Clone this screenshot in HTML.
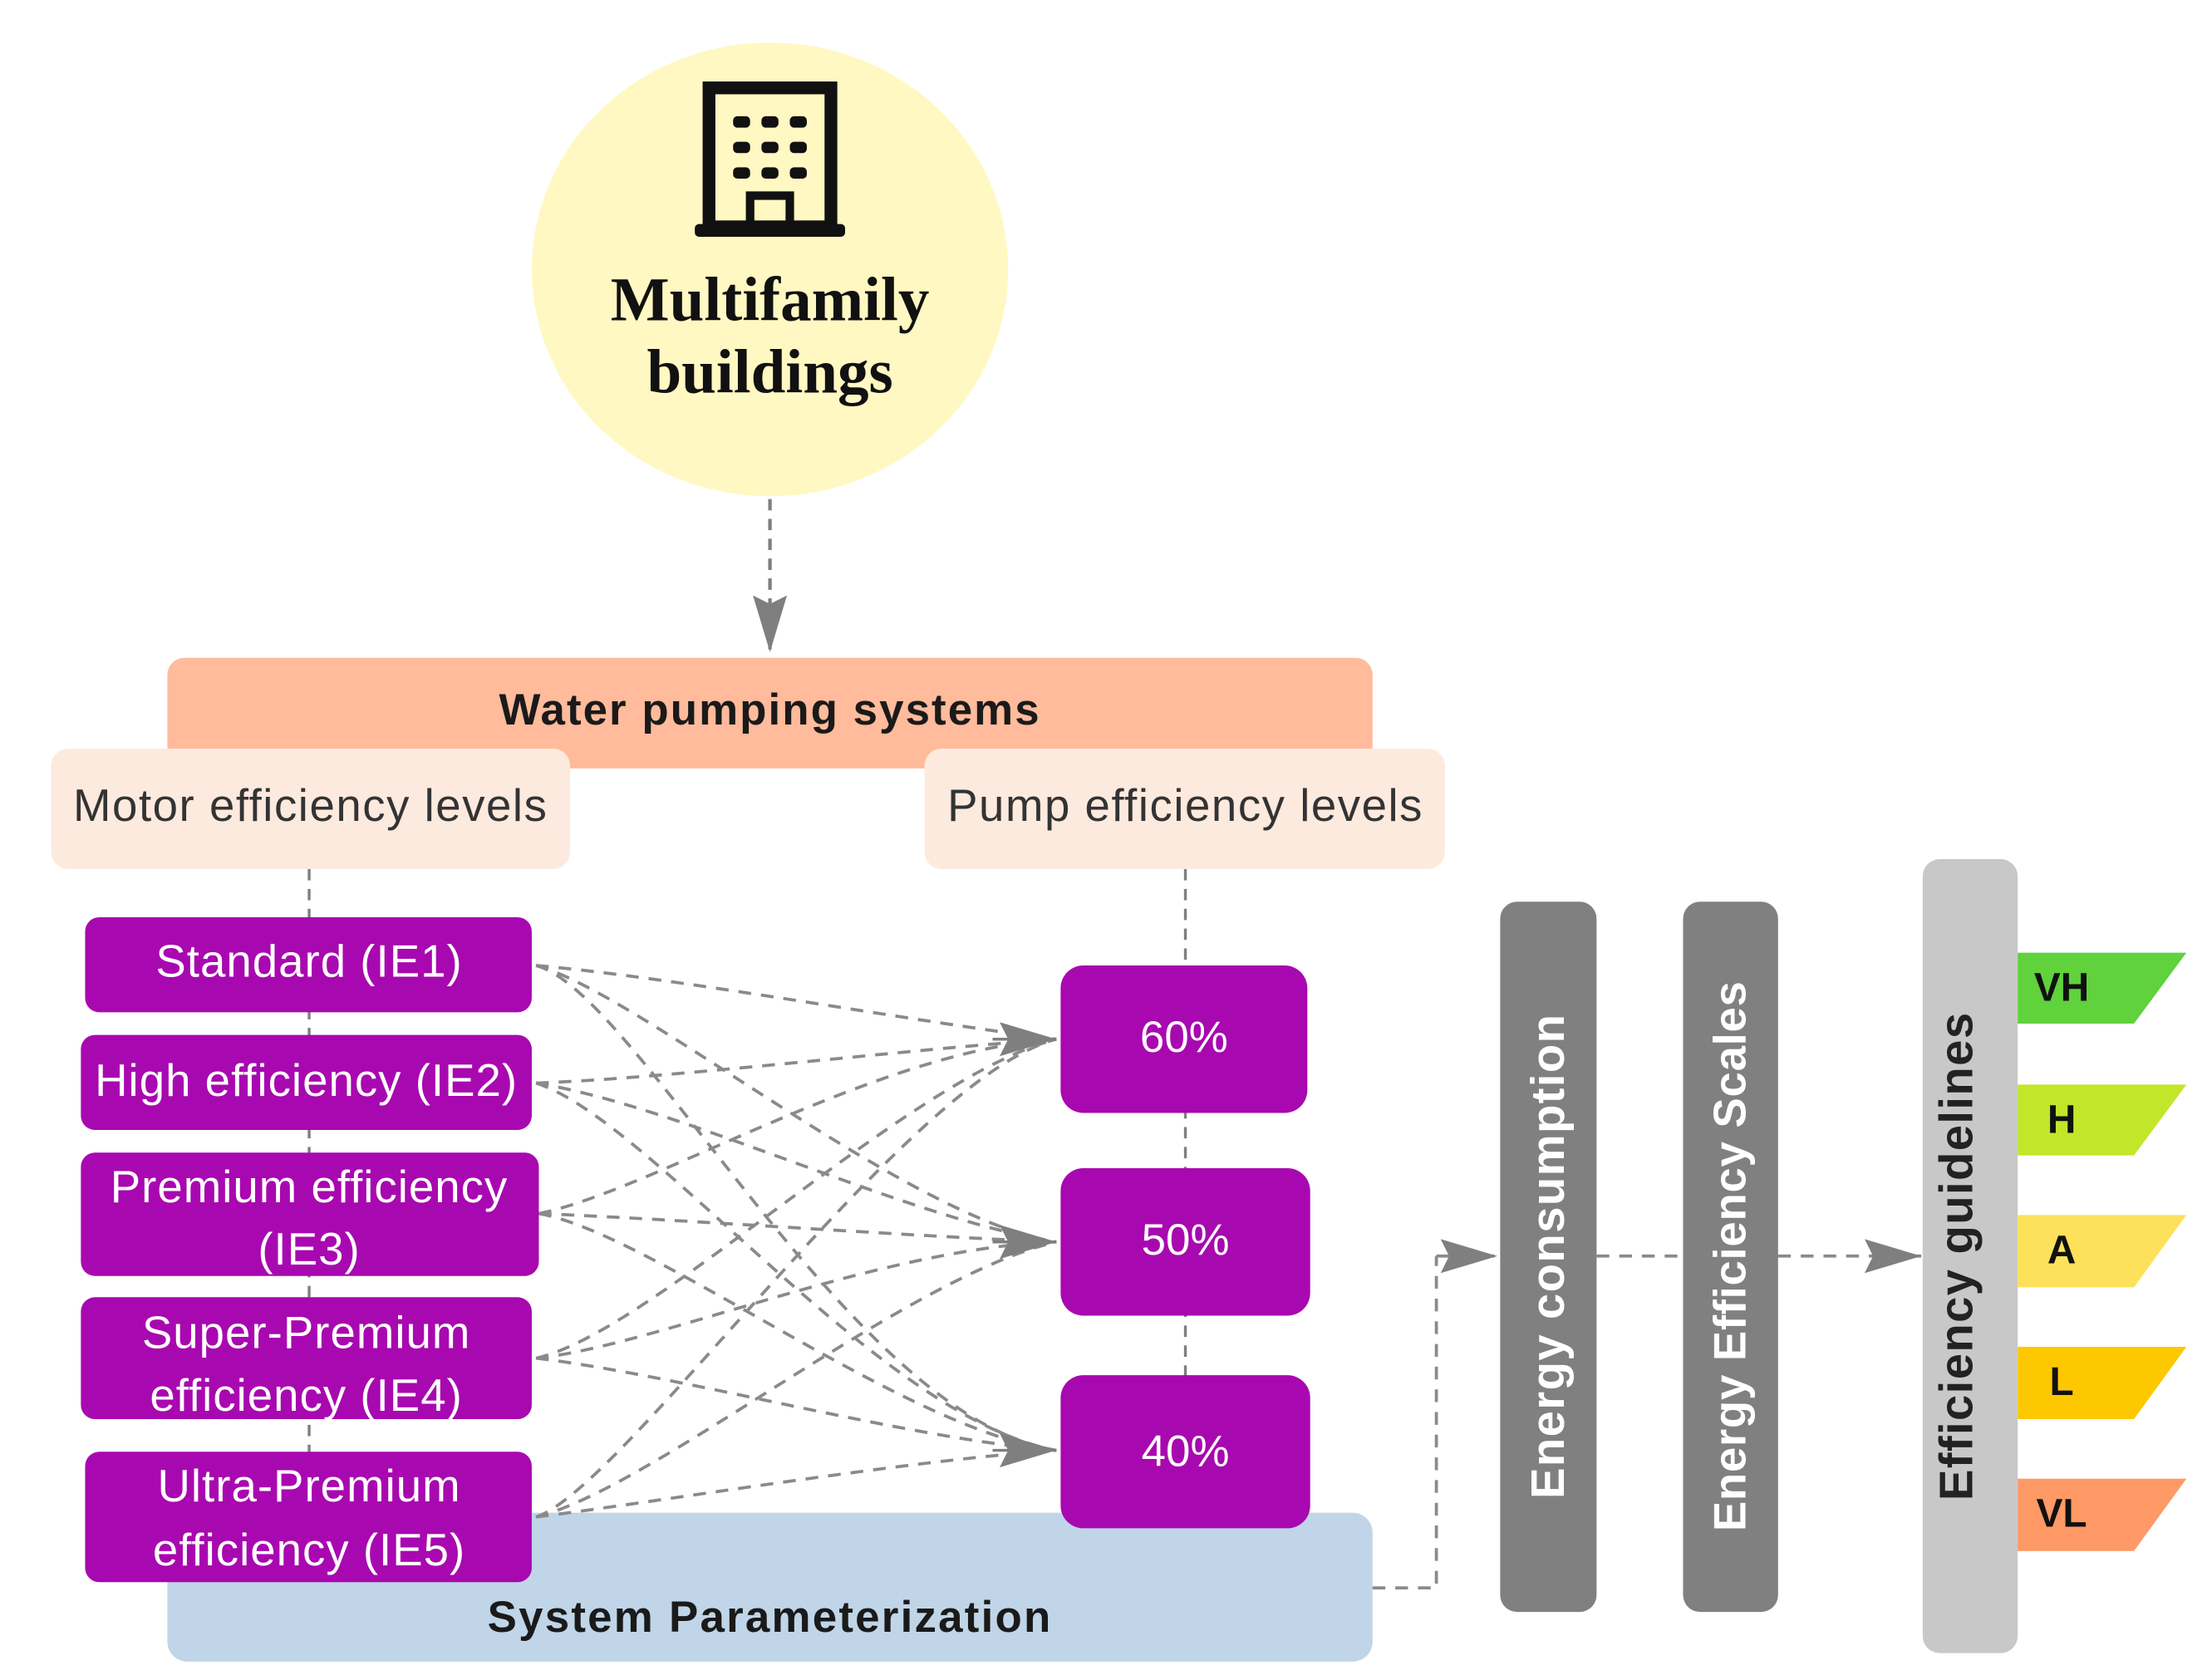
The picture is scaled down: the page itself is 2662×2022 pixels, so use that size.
<!DOCTYPE html>
<html><head><meta charset="utf-8">
<style>
html,body{margin:0;padding:0;background:#fff;}
svg{display:block;}
.s{font-family:"Liberation Sans",sans-serif;}
</style></head>
<body>
<svg width="2662" height="2022" viewBox="0 0 1560 1185" xmlns="http://www.w3.org/2000/svg">
<defs>
<marker id="ah2" viewBox="0 0 40 24" markerWidth="40" markerHeight="24" refX="40" refY="12" orient="auto" markerUnits="userSpaceOnUse">
<path d="M0,0 L40,12 L0,24 L6,12 Z" fill="#7f7f7f"/>
</marker>
</defs>
<rect width="1560" height="1185" fill="#fff"/>

<ellipse cx="543" cy="190" rx="168" ry="160" fill="#fff8c2"/>
<g fill="#111">
<rect x="500" y="62" width="86" height="98" fill="none" stroke="#111" stroke-width="9"/>
<rect x="490" y="158" width="106" height="9" rx="3"/>
<rect x="517" y="82" width="12" height="8" rx="3"/><rect x="537" y="82" width="12" height="8" rx="3"/><rect x="557" y="82" width="12" height="8" rx="3"/>
<rect x="517" y="100" width="12" height="8" rx="3"/><rect x="537" y="100" width="12" height="8" rx="3"/><rect x="557" y="100" width="12" height="8" rx="3"/>
<rect x="517" y="118" width="12" height="8" rx="3"/><rect x="537" y="118" width="12" height="8" rx="3"/><rect x="557" y="118" width="12" height="8" rx="3"/>
<rect x="529" y="138" width="28" height="22" fill="none" stroke="#111" stroke-width="6"/>
</g>
<text x="543" y="226" text-anchor="middle" font-family="Liberation Serif,serif" font-weight="bold" font-size="44" fill="#111">Multifamily</text>
<text x="543" y="277" text-anchor="middle" font-family="Liberation Serif,serif" font-weight="bold" font-size="44" fill="#111">buildings</text>

<line x1="543" y1="352" x2="543" y2="460" stroke="#7f7f7f" stroke-width="2.5" stroke-dasharray="8,6" marker-end="url(#ah2)"/>

<line x1="218" y1="613" x2="218" y2="1030" stroke="#7f7f7f" stroke-width="2" stroke-dasharray="8,6"/>
<line x1="836" y1="613" x2="836" y2="975" stroke="#7f7f7f" stroke-width="2" stroke-dasharray="8,6"/>

<rect x="118" y="464" width="850" height="78" rx="12" fill="#ffbb9b"/>
<text class="s" x="543" y="511" text-anchor="middle" font-size="31" letter-spacing="1.2" font-weight="bold" fill="#1a1a1a">Water pumping systems</text>

<rect x="36" y="528" width="366" height="85" rx="12" fill="#fdeadf"/>
<text class="s" x="219" y="579" text-anchor="middle" font-size="32" letter-spacing="0.9" fill="#333">Motor efficiency levels</text>
<rect x="652" y="528" width="367" height="85" rx="12" fill="#fdeadf"/>
<text class="s" x="836" y="579" text-anchor="middle" font-size="32" letter-spacing="0.9" fill="#333">Pump efficiency levels</text>

<rect x="118" y="1067" width="850" height="105" rx="14" fill="#c0d5e8"/>
<text class="s" x="543" y="1151" text-anchor="middle" font-size="31" letter-spacing="1.3" font-weight="bold" fill="#1a1a1a">System Parameterization</text>

<g fill="none" stroke="#8a8a8a" stroke-width="2.2" stroke-dasharray="9,7">
<path d="M378,681 C480,690 640,720 745,733"/>
<path d="M378,681 C450,700 640,860 745,876"/>
<path d="M378,681 C450,700 600,1000 745,1023"/>
<path d="M378,764 C480,760 640,740 745,733"/>
<path d="M378,764 C480,780 640,860 745,876"/>
<path d="M378,764 C460,790 620,1000 745,1023"/>
<path d="M380,856 C460,840 620,740 745,733"/>
<path d="M380,856 C480,860 640,872 745,876"/>
<path d="M380,856 C460,870 640,1010 745,1023"/>
<path d="M378,958 C460,950 620,880 745,876"/>
<path d="M378,958 C480,970 640,1015 745,1023"/>
<path d="M378,958 C460,940 640,760 745,733"/>
<path d="M378,1070 C460,1060 640,1030 745,1023"/>
<path d="M378,1070 C460,1050 640,900 745,876"/>
<path d="M378,1070 C440,1050 640,760 745,733"/>
</g>
<line x1="700" y1="733" x2="745" y2="733" stroke="#7f7f7f" stroke-width="2" marker-end="url(#ah2)"/>
<line x1="700" y1="876" x2="745" y2="876" stroke="#7f7f7f" stroke-width="2" marker-end="url(#ah2)"/>
<line x1="700" y1="1023" x2="745" y2="1023" stroke="#7f7f7f" stroke-width="2" marker-end="url(#ah2)"/>

<g fill="#a808b0">
<rect x="60" y="647" width="315" height="67" rx="10"/>
<rect x="57" y="730" width="318" height="67" rx="10"/>
<rect x="57" y="813" width="323" height="87" rx="10"/>
<rect x="57" y="915" width="318" height="86" rx="10"/>
<rect x="60" y="1024" width="315" height="92" rx="10"/>
</g>
<g class="s" fill="#fff" font-size="32" letter-spacing="0.6" text-anchor="middle">
<text x="218" y="689">Standard (IE1)</text>
<text x="216" y="773">High efficiency (IE2)</text>
<text x="218" y="848">Premium efficiency</text>
<text x="218" y="892">(IE3)</text>
<text x="216" y="951">Super-Premium</text>
<text x="216" y="995">efficiency (IE4)</text>
<text x="218" y="1059">Ultra-Premium</text>
<text x="218" y="1104">efficiency (IE5)</text>
</g>

<g fill="#a808b0">
<rect x="748" y="681" width="174" height="104" rx="16"/>
<rect x="748" y="824" width="176" height="104" rx="16"/>
<rect x="748" y="970" width="176" height="108" rx="16"/>
</g>
<g class="s" fill="#fff" font-size="31" text-anchor="middle">
<text x="835" y="742">60%</text>
<text x="836" y="885">50%</text>
<text x="836" y="1034">40%</text>
</g>

<g fill="none" stroke="#8a8a8a" stroke-width="2.2" stroke-dasharray="9,7">
<path d="M968,1120 L1013,1120 L1013,886"/>
<line x1="1126" y1="886" x2="1187" y2="886"/>
</g>
<line x1="1013" y1="886" x2="1056" y2="886" stroke="#8a8a8a" stroke-width="2.2" stroke-dasharray="9,7" marker-end="url(#ah2)"/>
<line x1="1254" y1="886" x2="1355" y2="886" stroke="#8a8a8a" stroke-width="2.2" stroke-dasharray="9,7" marker-end="url(#ah2)"/>

<rect x="1058" y="636" width="68" height="501" rx="12" fill="#808080"/>
<rect x="1187" y="636" width="67" height="501" rx="12" fill="#808080"/>
<rect x="1356" y="606" width="67" height="560" rx="12" fill="#c8c8c8"/>
<g class="s" font-weight="bold" font-size="33" letter-spacing="0.8">
<text transform="translate(1103,886) rotate(-90)" text-anchor="middle" fill="#fff">Energy consumption</text>
<text transform="translate(1231,886) rotate(-90)" text-anchor="middle" fill="#fff" font-size="32" letter-spacing="0.4">Energy Efficiency Scales</text>
<text transform="translate(1391,886) rotate(-90)" text-anchor="middle" fill="#222">Efficiency guidelines</text>
</g>

<polygon points="1423,672 1542,672 1505,722 1423,722" fill="#5fd23c"/>
<polygon points="1423,765 1542,765 1505,815 1423,815" fill="#c1e62a"/>
<polygon points="1423,857 1542,857 1505,908 1423,908" fill="#fde15a"/>
<polygon points="1423,950 1542,950 1505,1001 1423,1001" fill="#fdc800"/>
<polygon points="1423,1043 1542,1043 1505,1094 1423,1094" fill="#ff9966"/>
<g class="s" font-weight="bold" font-size="28" fill="#111" text-anchor="middle">
<text x="1454" y="706">VH</text>
<text x="1454" y="799">H</text>
<text x="1454" y="891">A</text>
<text x="1454" y="984">L</text>
<text x="1454" y="1077">VL</text>
</g>
</svg>
</body></html>
